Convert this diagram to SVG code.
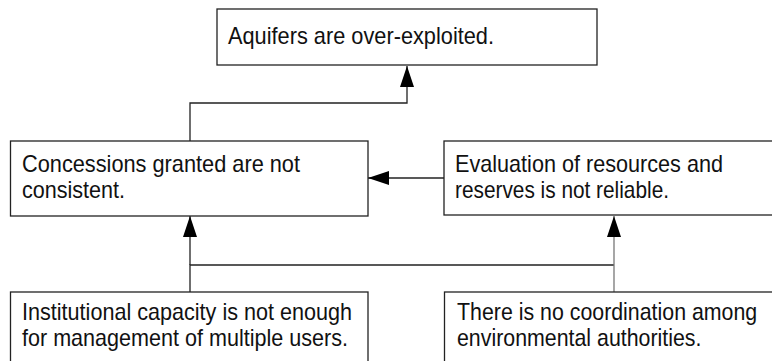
<svg xmlns="http://www.w3.org/2000/svg" width="772" height="361" viewBox="0 0 772 361">
<style>
.box{fill:#fff;stroke:#222;stroke-width:1.3}
.lbl{font-family:"Liberation Sans",Arial,sans-serif;font-size:24px;fill:#111}
.con{fill:none;stroke:#222;stroke-width:1.3}
.gray{stroke:#777}
</style>
<defs>
<marker id="arr" viewBox="0 0 21 14" refX="21" refY="7" markerWidth="21" markerHeight="14" markerUnits="userSpaceOnUse" orient="auto">
<path d="M0,0 L21,7 L0,14 Z" fill="#000"/>
</marker>
</defs>
<rect width="772" height="361" fill="#fff"/>
<g id="connectors">
<path class="con" d="M190,141 V103 H407 V66" marker-end="url(#arr)"/>
<path class="con" d="M444,178 H368" marker-end="url(#arr)"/>
<path class="con" d="M190,292 V265 H614"/>
<path class="con" d="M190,265 V216" marker-end="url(#arr)"/>
<path class="con gray" d="M614,292 V216" marker-end="url(#arr)"/>
</g>
<g id="n-aquifers">
<rect class="box" x="217" y="9" width="380" height="56"/>
<text class="lbl" x="228" y="44" textLength="266" lengthAdjust="spacingAndGlyphs">Aquifers are over-exploited.</text>
</g>
<g id="n-concessions">
<rect class="box" x="10.5" y="141" width="357.5" height="75"/>
<text class="lbl" x="22" y="172" textLength="278" lengthAdjust="spacingAndGlyphs">Concessions granted are not</text>
<text class="lbl" x="22" y="198" textLength="103" lengthAdjust="spacingAndGlyphs">consistent.</text>
</g>
<g id="n-evaluation">
<rect class="box" x="444" y="141" width="340" height="74"/>
<text class="lbl" x="455" y="172" textLength="268" lengthAdjust="spacingAndGlyphs">Evaluation of resources and</text>
<text class="lbl" x="455" y="198" textLength="214" lengthAdjust="spacingAndGlyphs">reserves is not reliable.</text>
</g>
<g id="n-institutional">
<rect class="box" x="10.5" y="292" width="357.5" height="90"/>
<text class="lbl" x="22" y="320" textLength="330" lengthAdjust="spacingAndGlyphs">Institutional capacity is not enough</text>
<text class="lbl" x="22" y="346" textLength="326" lengthAdjust="spacingAndGlyphs">for management of multiple users.</text>
</g>
<g id="n-coordination">
<rect class="box" x="444.5" y="292" width="340" height="90"/>
<text class="lbl" transform="translate(457 320) scale(0.89 1)">There is no coordination among</text>
<text class="lbl" transform="translate(457 346) scale(0.89 1)">environmental authorities.</text>
</g>
</svg>
